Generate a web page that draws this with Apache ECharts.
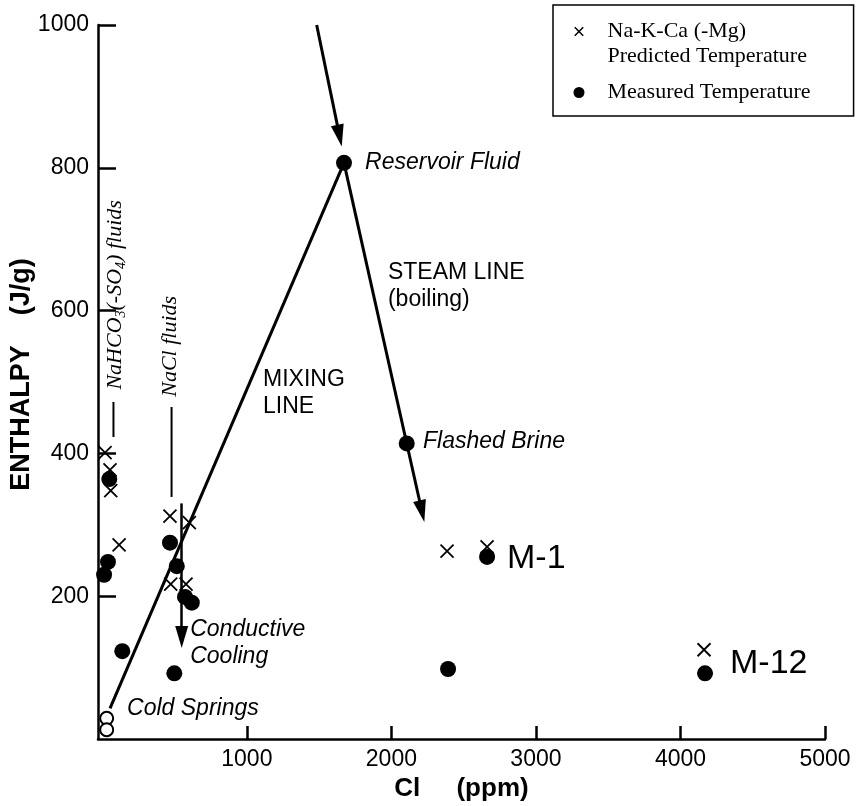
<!DOCTYPE html>
<html>
<head>
<meta charset="utf-8">
<script src="https://cdn.jsdelivr.net/npm/echarts@6/dist/echarts.min.js"></script>
<style>
  html, body { margin: 0; padding: 0; background: #fff; }
  #chart { width: 856px; height: 806px; }
</style>
</head>
<body>
<div id="chart"></div>
<script>
// ---------------- data ----------------
const xTickValues = [1000, 2000, 3000, 4000, 5000];
const yTickInterval = 200;

// Na-K-Ca (-Mg) predicted temperature (Cl ppm, enthalpy J/g)
const predicted = [
  [19, 401], [53, 377], [58, 348], [116, 272],
  [468, 312], [602, 303], [473, 217], [579, 217],
  [2385, 263], [2662, 269], [4163, 125]
];
// Measured temperature
const measured = [
  [1672, 807], [2106, 414], [2662, 255], [2392, 98], [4170, 92],
  [48, 364], [39, 248], [12, 230],
  [468, 275], [515, 242], [572, 199], [619, 191],
  [138, 123], [498, 92]
];
// Cold springs
const coldSprings = [[30, 29], [30, 13]];

// Lines
const mixingLine = [[53, 43], [1672, 807]];
const inflowArrow = [[1483, 1000], [1641, 845]];
const steamLine = [[1672, 807], [2211, 319]];
const coolingArrow = [[549, 330], [549, 143]];
const naclBar = [[479, 465], [479, 339]];
const nahco3Bar = [[77, 472], [77, 423]];

// Annotation texts and anchors (left edge / vertical centre)
const noteTexts = ['Reservoir Fluid', 'STEAM LINE\n(boiling)', 'MIXING\nLINE', 'Flashed Brine',
                   'Conductive\nCooling', 'Cold Springs', 'M-1', 'M-12'];
const noteAnchors = [[1818, 807], [1976, 634], [1112, 484], [2219, 416],
                     [608, 134], [171, 42], [2800, 253], [4343, 106]];
const noteItalic = [true, false, false, true, true, true, false, false];
const noteBig = [false, false, false, false, false, false, true, true];

const fluidTexts = ['NaCl fluids', 'NaHCO{s|3}(-SO{s|4}) fluids'];
const fluidAnchors = [[468, 550], [89, 622]];

// ---------------- chart ----------------
const SANS = 'Liberation Sans';
const SERIF = 'Liberation Serif';
const crossPath = 'path://M0,0L1,1M1,0L0,1';
const crossLegendPath = 'path://M-0.15,-0.15M0,0L1,1M1,0L0,1M1.15,1.15';

const chart = echarts.init(document.getElementById('chart'), null, { renderer: 'canvas' });

function seg(points, width) {
  return {
    type: 'line', data: points, symbol: 'none', silent: true, z: 2,
    lineStyle: { color: '#000', width: width }, clip: false
  };
}
function arrow(points, width) {
  return [{ coord: points[0] }, { coord: points[1], lineStyle: { width: width } }];
}
const plain = v => String(v);

const option = {
  animation: false,
  backgroundColor: '#fff',
  grid: { left: 98, right: 31, top: 25, bottom: 67, containLabel: false, outerBoundsMode: 'none' },
  xAxis: {
    type: 'value', min: -30, max: 5000,
    name: 'Cl     (ppm)', nameLocation: 'middle', nameGap: 27,
    nameTextStyle: { fontFamily: SANS, fontWeight: 'bold', fontSize: 26, color: '#000' },
    axisLine: { onZero: false, lineStyle: { color: '#000', width: 2.5 } },
    axisTick: { inside: true, length: 13, customValues: xTickValues, lineStyle: { color: '#000', width: 2.5 } },
    axisLabel: { customValues: xTickValues, formatter: plain, margin: 9, fontFamily: SANS, fontSize: 23, color: '#000' },
    splitLine: { show: false }
  },
  yAxis: {
    type: 'value', min: 0, max: 1000, interval: yTickInterval,
    name: 'ENTHALPY    (J/g)', nameLocation: 'middle', nameRotate: 90, nameGap: 63,
    nameMoveOverlap: false,
    nameTextStyle: { fontFamily: SANS, fontWeight: 'bold', fontSize: 27, color: '#000', padding: [0, 0, 0, 15] },
    axisLine: { onZero: false, lineStyle: { color: '#000', width: 2.5 } },
    axisTick: { inside: true, length: 18, lineStyle: { color: '#000', width: 2.5 } },
    axisLabel: { showMinLabel: false, formatter: plain, margin: 9, fontFamily: SANS, fontSize: 23, color: '#000' },
    splitLine: { show: false }
  },
  legend: {
    orient: 'vertical', left: 553, top: 5, itemGap: 0, itemWidth: 11, itemHeight: 11,
    padding: [14, 43, 0, 18], borderColor: '#000', borderWidth: 1.5, selectedMode: false,
    textStyle: { fontFamily: SERIF, fontSize: 22, lineHeight: 25, color: '#000', padding: [0, 0, 0, 18] },
    data: [
      { name: 'Na-K-Ca (-Mg)', icon: crossLegendPath,
        itemStyle: { color: 'none', borderColor: '#000', borderWidth: 1.5 } },
      { name: 'Predicted Temperature', icon: 'none' },
      { name: 'Measured Temperature', icon: 'circle', itemStyle: { color: '#000', borderWidth: 0 },
        textStyle: { padding: [11, 0, 11, 18] } }
    ]
  },
  series: [
    seg(mixingLine, 3),
    seg(naclBar, 2),
    seg(nahco3Bar, 2),
    {
      type: 'line', data: [], silent: true, z: 2,
      markLine: {
        silent: true, symbol: ['none', 'triangle'], symbolSize: [13, 22],
        label: { show: false },
        lineStyle: { color: '#000', width: 3, type: 'solid' },
        itemStyle: { color: '#000' },
        emphasis: { disabled: true },
        data: [arrow(inflowArrow, 3), arrow(steamLine, 3), arrow(coolingArrow, 2.5)]
      }
    },
    {
      name: 'Na-K-Ca (-Mg)', type: 'scatter', data: predicted, symbol: crossPath, symbolSize: 13,
      silent: true, z: 3,
      itemStyle: { color: 'none', borderColor: '#000', borderWidth: 1.8, opacity: 1 }
    },
    { name: 'Predicted Temperature', type: 'scatter', data: [], silent: true },
    {
      name: 'Measured Temperature', type: 'scatter', data: measured, symbol: 'circle', symbolSize: 16,
      silent: true, z: 4, itemStyle: { color: '#000', opacity: 1 }
    },
    {
      type: 'scatter', data: coldSprings, symbol: 'circle', symbolSize: 13, silent: true, z: 5,
      itemStyle: { color: '#fff', borderColor: '#000', borderWidth: 2, opacity: 1 }
    },
    {
      type: 'scatter', silent: true, z: 6, symbolSize: 0, itemStyle: { opacity: 1 },
      data: noteAnchors.map((p, i) => ({
        value: p,
        label: {
          show: true, position: 'right', distance: 0, formatter: noteTexts[i],
          fontFamily: SANS, fontStyle: noteItalic[i] ? 'italic' : 'normal',
          fontSize: noteBig[i] ? 34 : 23, lineHeight: noteBig[i] ? 36 : 27, color: '#000',
          textBorderWidth: 0, opacity: 1
        }
      }))
    },
    {
      type: 'scatter', silent: true, z: 6, symbolSize: 0, itemStyle: { opacity: 1 },
      data: fluidAnchors.map((p, i) => ({
        value: p,
        label: {
          show: true, position: 'inside', rotate: 90, formatter: fluidTexts[i],
          fontFamily: SERIF, fontStyle: 'italic', fontSize: 22, lineHeight: 26, color: '#000',
          textBorderWidth: 0, opacity: 1,
          rich: { s: { fontFamily: SERIF, fontStyle: 'italic', fontSize: 14, lineHeight: 26, verticalAlign: 'bottom', color: '#000' } }
        }
      }))
    }
  ]
};
chart.setOption(option);
</script>
</body>
</html>
